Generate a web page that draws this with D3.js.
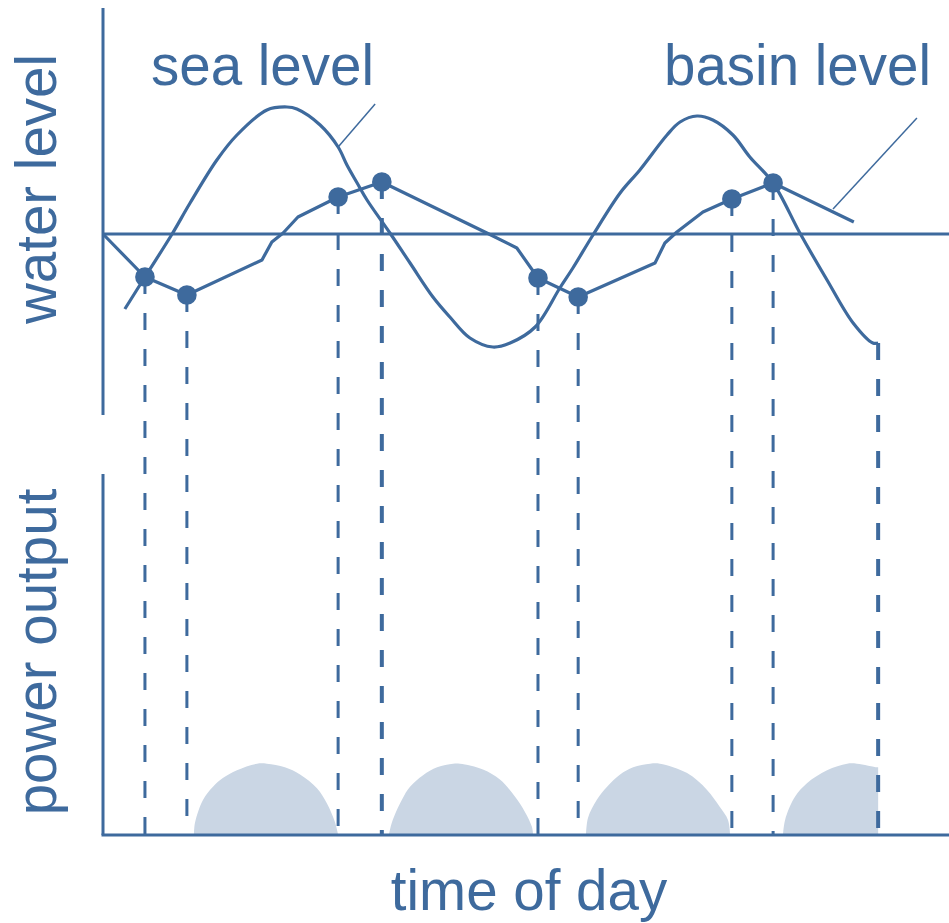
<!DOCTYPE html>
<html>
<head>
<meta charset="utf-8">
<script src="https://cdn.jsdelivr.net/npm/d3@7"></script>
<style>
  html, body { margin: 0; padding: 0; background: #ffffff; }
  svg { display: block; }
</style>
</head>
<body>
<svg id="chart" width="949" height="923"></svg>
<script>
// ---------- data (time in hours, water level in m, power in relative units) ----------
const seaLevel = [
  [0.62,-3.00],[1.19,-1.72],[1.96,0.00],[2.47,1.24],[3.23,2.96],[3.80,3.96],[4.65,4.96],
  [5.22,5.08],[5.50,5.00],[6.16,4.36],[6.67,3.48],[6.92,2.76],[7.21,2.04],[7.49,1.36],
  [8.14,0.04],[8.71,-1.16],[9.36,-2.52],[9.84,-3.32],[10.41,-4.16],[11.06,-4.52],
  [11.55,-4.36],[12.26,-3.72],[12.96,-2.16],[13.33,-1.36],[13.90,-0.04],[14.67,1.64],
  [15.23,2.56],[16.00,3.96],[16.37,4.48],[16.85,4.72],[17.30,4.56],[17.87,3.96],
  [18.35,3.08],[19.01,2.04],[19.77,0.04],[20.54,-1.84],[21.28,-3.56],[21.84,-4.36],[21.99,-4.36]
];
const basinLevel = [
  [0.00,0.00],[1.19,-1.72],[2.38,-2.44],[4.51,-1.04],[4.79,-0.32],[5.11,0.04],[5.53,0.68],
  [6.67,1.48],[7.91,2.08],[10.89,0.04],[11.74,-0.56],[12.34,-1.76],[13.48,-2.52],
  [15.66,-1.16],[15.94,-0.36],[16.28,0.08],[17.02,0.88],[17.84,1.40],[19.01,2.04],[21.30,0.48]
];
// gate switching moments (dots) : time, level
const gateTimes  = [1.19, 2.38, 6.67, 7.91, 12.34, 13.48, 17.84, 19.01];
const gateLevels = [-1.72, -2.44, 1.48, 2.08, -1.76, -2.52, 1.40, 2.04];
// vertical guide lines: time, start level, emphasised?
const guideTimes  = [1.19, 2.38, 6.67, 7.91, 12.34, 13.48, 17.84, 19.01, 21.99];
const guideLevels = [-1.72, -2.44, 1.48, 2.08, -1.76, -2.52, 1.40, 2.04, -4.36];
const guideBold   = [false, false, false, true, false, false, false, false, true];
// power output pulses
const power1 = [[2.58,0],[2.61,0.17],[2.84,0.49],[3.12,0.67],[3.40,0.79],[3.80,0.90],[4.37,0.99],[4.65,0.99],[5.16,0.94],[5.59,0.84],[6.07,0.65],[6.35,0.44],[6.58,0.18],[6.67,0]];
const power2 = [[8.11,0],[8.20,0.18],[8.48,0.49],[8.71,0.67],[9.08,0.83],[9.48,0.94],[9.93,0.99],[10.13,0.99],[10.78,0.91],[11.26,0.77],[11.69,0.53],[11.97,0.32],[12.17,0.11],[12.20,0]];
const power3 = [[13.70,0],[13.76,0.24],[14.01,0.49],[14.30,0.67],[14.67,0.84],[15.04,0.94],[15.52,0.99],[15.80,0.99],[16.57,0.86],[17.13,0.63],[17.50,0.39],[17.73,0.21],[17.79,0]];
const power4 = [[19.29,0],[19.35,0.21],[19.63,0.53],[19.97,0.72],[20.54,0.90],[21.11,0.99],[21.39,0.99],[21.96,0.94],[21.99,0.94]];
const powerPulses = [power1, power2, power3, power4];
// label leader lines [time, level] -> [time, level]
const seaLeader   = [[6.67,3.48],[7.72,5.20]];
const basinLeader = [[20.71,1.00],[23.09,4.64]];
const labels = { sea: "sea level", basin: "basin level", water: "water level", power: "power output", time: "time of day" };

// ---------- scales ----------
const BLUE = "#3e6a9d", FILL = "#cad6e4";
const FONT = "'Liberation Sans', Arial, Helvetica, sans-serif";
const x = d3.scaleLinear().domain([0, 24]).range([103, 949]);
const yL = d3.scaleLinear().domain([-5, 5]).range([359, 109]);   // water level
const yP = d3.scaleLinear().domain([0, 5]).range([835, 475]);    // power output

const svg = d3.select("#chart");

// power pulses
const area = d3.area().x(d => x(d[0])).y0(yP(0)).y1(d => yP(d[1])).curve(d3.curveCatmullRom.alpha(0.5));
svg.append("g").selectAll("path").data(powerPulses).join("path")
  .attr("d", area).attr("fill", FILL).attr("stroke", "none");

// axes
const axes = svg.append("g").attr("stroke", BLUE).attr("stroke-width", 3).attr("fill", "none");
axes.append("line").attr("x1", x(0)).attr("x2", x(0)).attr("y1", 8).attr("y2", 415);
axes.append("line").attr("x1", x(0)).attr("x2", x(24)).attr("y1", yL(0)).attr("y2", yL(0));
axes.append("line").attr("x1", x(0)).attr("x2", x(0)).attr("y1", 474).attr("y2", yP(0));
axes.append("line").attr("x1", x(0) - 1.5).attr("x2", x(24)).attr("y1", yP(0)).attr("y2", yP(0));

// dashed guides
svg.append("g").selectAll("line").data(guideTimes).join("line")
  .attr("x1", d => x(d)).attr("x2", d => x(d))
  .attr("y1", (d, i) => yL(guideLevels[i])).attr("y2", yP(0))
  .attr("stroke", BLUE)
  .attr("stroke-width", (d, i) => guideBold[i] ? 4 : 3)
  .attr("stroke-dasharray", "17,19");

// curves
const line = d3.line().x(d => x(d[0])).y(d => yL(d[1])).curve(d3.curveLinear);
const smooth = d3.line().x(d => x(d[0])).y(d => yL(d[1])).curve(d3.curveCatmullRom.alpha(0.5));
svg.append("path").datum(seaLevel).attr("d", smooth)
  .attr("fill", "none").attr("stroke", BLUE).attr("stroke-width", 3.2).attr("stroke-linejoin", "round");
svg.append("path").datum(basinLevel).attr("d", line)
  .attr("fill", "none").attr("stroke", BLUE).attr("stroke-width", 3.2).attr("stroke-linejoin", "round");

// leader lines
svg.append("g").selectAll("path").data([seaLeader, basinLeader]).join("path")
  .attr("d", line).attr("fill", "none").attr("stroke", BLUE).attr("stroke-width", 1.5);

// dots
svg.append("g").selectAll("circle").data(gateTimes).join("circle")
  .attr("cx", d => x(d)).attr("cy", (d, i) => yL(gateLevels[i])).attr("r", 9.8)
  .attr("fill", BLUE);

// labels
const txt = svg.append("g").attr("fill", BLUE).attr("font-family", FONT).attr("font-size", 56.5);
txt.append("text").attr("x", 151).attr("y", 85).text(labels.sea);
txt.append("text").attr("x", 664).attr("y", 85).text(labels.basin);
txt.append("text").attr("x", 529).attr("y", 910).attr("text-anchor", "middle").text(labels.time);
txt.append("text").attr("transform", "translate(56,189) rotate(-90)").attr("text-anchor", "middle").text(labels.water);
txt.append("text").attr("transform", "translate(56,652) rotate(-90)").attr("text-anchor", "middle").text(labels.power);
</script>
</body>
</html>
